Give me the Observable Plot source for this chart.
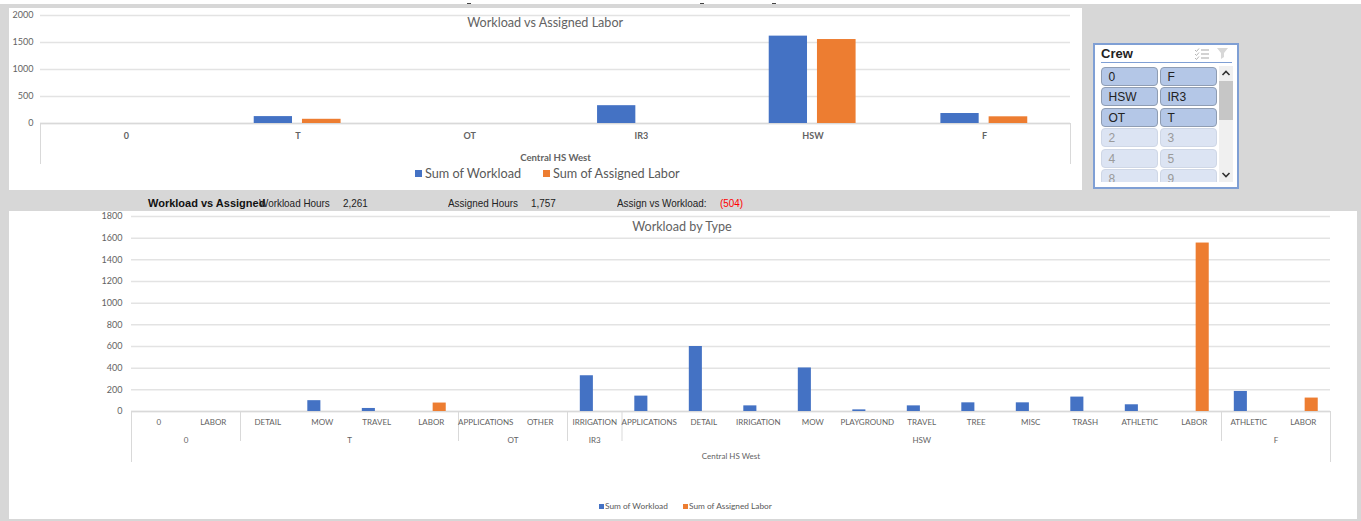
<!DOCTYPE html>
<html>
<head>
<meta charset="utf-8">
<script src="https://cdn.jsdelivr.net/npm/d3@7"></script>
<script src="https://cdn.jsdelivr.net/npm/@observablehq/plot@0.6"></script>
<style>
  html, body { margin: 0; padding: 0; }
  body { width: 1361px; height: 521px; overflow: hidden; position: relative; background: #d7d7d7; font-family: Lato, sans-serif; }
  .abs { position: absolute; white-space: nowrap; }
  .panel { position: absolute; background: #fff; }
  .panel svg { position: absolute; left: 0; top: 0; overflow: visible; background: transparent; }
  .strip { font: 11px "Liberation Sans", sans-serif; color: #222; top: 197px; transform: scaleX(0.9); transform-origin: left center; }
  .legend { color: #595959; display: flex; align-items: center; }
  .legend i { display: inline-block; }
  #slicer { position: absolute; left: 1093px; top: 43px; width: 142px; height: 142px; background: #fff; border: 2px solid #7f9fd4; overflow: hidden; }
  #slicer .head { position: absolute; left: 6px; top: 1px; font: bold 13px "Liberation Sans", sans-serif; color: #222; }
  #slicer .line { position: absolute; left: 6px; top: 17px; width: 131px; height: 1px; background: #7f9fd4; }
  #slicer .cover { position: absolute; left: 0; top: 137px; width: 142px; height: 5px; background: #fff; z-index: 2; }
  .btn { position: absolute; box-sizing: border-box; width: 57px; height: 19px; border-radius: 4px; font: 12px/18px "Liberation Sans", sans-serif; padding-left: 7px; }
  .btn.on { background: #b4c7e7; border: 1px solid #8f9db3; color: #222; }
  .btn.off { background: #dce4f3; border: 1px solid #cfd7e6; color: #9a9a9a; }
  #track { position: absolute; left: 124px; top: 21px; width: 14px; height: 116px; background: #f0f0f0; }
  #thumb { position: absolute; left: 0; top: 15px; width: 14px; height: 39px; background: #c6c6c6; }
  #topEdge { position: absolute; left: 0; top: 0; width: 1361px; height: 4px; background: #fff; }
  .tick { position: absolute; top: 3px; width: 4px; height: 1px; background: #444; }
</style>
</head>
<body>
<div id="topEdge"></div>
<div class="tick" style="left:467px"></div>
<div class="tick" style="left:700px"></div>
<div class="tick" style="left:772px"></div>
<script>
// Crew totals for the summary chart
const crews = ["0", "T", "OT", "IR3", "HSW", "F"];
const crewWorkload = [0, 128, 0, 330, 1618, 185];
const crewAssigned = [0, 78, 0, 0, 1555, 124];

// Work types under each crew for the detail chart
const typeCrews = ["0","0","T","T","T","T","OT","OT","IR3","HSW","HSW","HSW","HSW","HSW","HSW","HSW","HSW","HSW","HSW","HSW","F","F"];
const typeNames = ["0","LABOR","DETAIL","MOW","TRAVEL","LABOR","APPLICATIONS","OTHER","IRRIGATION","APPLICATIONS","DETAIL","IRRIGATION","MOW","PLAYGROUND","TRAVEL","TREE","MISC","TRASH","ATHLETIC","LABOR","ATHLETIC","LABOR"];
const typeWorkload = [0,0,0,100,28,0,0,0,330,142,600,52,402,15,52,80,80,133,62,0,185,0];
const typeAssigned = [0,0,0,0,0,78,0,0,0,0,0,0,0,0,0,0,0,0,0,1555,0,124];

// Summary strip
const workloadHours = "2,261";
const assignedHours = "1,757";
const assignGap = "(504)";

// Slicer buttons
const crewButtonsOn = ["0","F","HSW","IR3","OT","T"];
const crewButtonsOff = ["2","3","4","5","8","9"];

const BLUE = "#4472c4", ORANGE = "#ed7d31", GRID = "#e3e3e3", FRAME = "#d9d9d9", INK = "#636363";

function addBox(cls, left, top, width, height, parent = document.body) {
  const d = document.createElement("div");
  d.className = cls;
  Object.assign(d.style, {left: left + "px", top: top + "px"});
  if (width != null) d.style.width = width + "px";
  if (height != null) d.style.height = height + "px";
  parent.appendChild(d);
  return d;
}

function addLegend(left, top, size, gap, swatch, entries) {
  const d = addBox("abs legend", left, top);
  d.style.font = `${size}px Lato, sans-serif`;
  entries.forEach(([label, color, width]) => {
    const s = document.createElement("span");
    s.style.cssText = `display:inline-flex;align-items:center;width:${width}px`;
    s.innerHTML = `<i style="width:${swatch}px;height:${swatch}px;background:${color};margin-right:${gap}px"></i>${label}`;
    d.appendChild(s);
  });
}

// Spans of consecutive types belonging to one crew, in band units
function crewSpans() {
  const spans = [];
  typeCrews.forEach((c, i) => {
    const last = spans[spans.length - 1];
    if (last && last.crew === c) last.x2 = i + 1;
    else spans.push({crew: c, x1: i, x2: i + 1});
  });
  return spans;
}

// Summary chart panel
(function () {
  const panel = addBox("panel", 9, 8, 1073, 182);
  const rows = crews.map((crew, i) => ({i, crew, workload: crewWorkload[i], assigned: crewAssigned[i]}));
  const w = 1073, h = 182, base = 115;
  const chart = Plot.plot({
    width: w, height: h,
    marginLeft: 31, marginRight: 12, marginTop: 7, marginBottom: 26,
    style: {background: "transparent"},
    x: {domain: [0, crews.length], range: [31, 1061], axis: null},
    y: {domain: [0, 2000], range: [base, 7], ticks: 4, label: null},
    marks: [
      Plot.gridY({ticks: 4, stroke: GRID, strokeOpacity: 1, strokeWidth: 1.5}),
      Plot.axisY({ticks: 4, tickSize: 0, tickPadding: 7, label: null, fontSize: 9, fill: INK, fontFamily: "Lato, sans-serif", tickFormat: d3.format("d")}),
      Plot.ruleX([0, crews.length], {stroke: FRAME, insetTop: base - 7}),
      Plot.ruleY([0], {stroke: FRAME, strokeWidth: 1.5}),
      Plot.rectY(rows, {x1: d => d.i + 0.245, x2: d => d.i + 0.468, y: "workload", fill: BLUE}),
      Plot.rectY(rows, {x1: d => d.i + 0.526, x2: d => d.i + 0.751, y: "assigned", fill: ORANGE}),
      Plot.text(rows, {x: d => d.i + 0.5, y: 0, text: "crew", dy: 13, fontSize: 9, fontWeight: "bold", fill: INK, fontFamily: "Lato, sans-serif"}),
      Plot.text(["Central HS West"], {x: crews.length / 2, y: 0, dy: 34, fontSize: 9.6, fontWeight: "bold", fill: INK, fontFamily: "Lato, sans-serif", text: d => d}),
      Plot.text(["Workload vs Assigned Labor"], {x: crews.length / 2 - 0.06, y: 2000, dy: 7, fontSize: 12.6, fill: INK, fontFamily: "Lato, sans-serif", text: d => d})
    ]
  });
  panel.appendChild(chart);
  addLegend(415, 165, 12.7, 3, 7, [["Sum of Workload", BLUE, 128], ["Sum of Assigned Labor", ORANGE, 160]]);
})();

// Detail chart panel
(function () {
  const panel = addBox("panel", 9, 211, 1348, 308);
  const rows = typeNames.map((name, i) => ({i, name, crew: typeCrews[i], workload: typeWorkload[i], assigned: typeAssigned[i]}));
  const spans = crewSpans();
  const w = 1348, h = 308, base = 200, top = 5, n = typeNames.length;
  const edges = spans.map(s => s.x1).concat(n);
  const chart = Plot.plot({
    width: w, height: h,
    marginLeft: 122, marginRight: 27, marginTop: top, marginBottom: 57,
    style: {background: "transparent"},
    x: {domain: [0, n], range: [122, 1321], axis: null},
    y: {domain: [0, 1800], range: [base, top], label: null},
    marks: [
      Plot.gridY({ticks: d3.range(0, 1801, 200), stroke: GRID, strokeOpacity: 1, strokeWidth: 1.5}),
      Plot.axisY({ticks: d3.range(0, 1801, 200), tickSize: 0, tickPadding: 9, label: null, fontSize: 9, fill: INK, fontFamily: "Lato, sans-serif", tickFormat: d3.format("d")}),
      Plot.ruleX(edges.slice(1, -1), {stroke: FRAME, insetTop: base - top, insetBottom: 21}),
      Plot.ruleX([0, n], {stroke: FRAME, insetTop: base - top}),
      Plot.ruleY([0], {stroke: FRAME, strokeWidth: 1.5}),
      Plot.rectY(rows, {x1: d => d.i + 0.235, x2: d => d.i + 0.475, y: "workload", fill: BLUE}),
      Plot.rectY(rows, {x1: d => d.i + 0.535, x2: d => d.i + 0.775, y: "assigned", fill: ORANGE}),
      Plot.text(rows, {x: d => d.i + 0.5, y: 0, text: "name", dy: 11, fontSize: 8, fill: INK, fontFamily: "Lato, sans-serif"}),
      Plot.text(spans, {x: d => (d.x1 + d.x2) / 2, y: 0, text: "crew", dy: 29, fontSize: 8, fill: INK, fontFamily: "Lato, sans-serif"}),
      Plot.text(["Central HS West"], {x: n / 2, y: 0, dy: 45, fontSize: 8, fill: INK, fontFamily: "Lato, sans-serif", text: d => d}),
      Plot.text(["Workload by Type"], {x: n / 2 - 0.9, y: 1800, dy: 10, fontSize: 12.6, fill: INK, fontFamily: "Lato, sans-serif", text: d => d})
    ]
  });
  panel.appendChild(chart);
  addLegend(599, 501, 8.3, 1, 5, [["Sum of Workload", BLUE, 84], ["Sum of Assigned Labor", ORANGE, 100]]);
})();

// Totals between the two charts
[
  ["Workload vs Assigned", 148, {fontWeight: "bold", transform: "none", color: "#111"}],
  ["Workload Hours", 259, {}],
  [workloadHours, 343, {}],
  ["Assigned Hours", 448, {}],
  [assignedHours, 531, {}],
  ["Assign vs Workload:", 617, {}],
  [assignGap, 720, {color: "#f00"}]
].forEach(([label, left, style]) => {
  const d = addBox("abs strip", left);
  d.style.top = "197px";
  d.textContent = label;
  Object.assign(d.style, style);
});

// Crew slicer
(function () {
  const s = document.createElement("div");
  s.id = "slicer";
  s.innerHTML = `<div class="head">Crew</div><div class="line"></div><div class="cover"></div>
    <div id="track"><div id="thumb"></div>
      <svg width="14" height="116" style="position:absolute;left:0;top:0">
        <path d="M3.5 9l3.5-3.5 3.5 3.5M3.5 107l3.5 3.5 3.5-3.5" fill="none" stroke="#333" stroke-width="1.6"/>
      </svg></div>
    <svg width="40" height="16" style="position:absolute;left:98px;top:1px">
      <path d="M8 4h8M8 8h8M8 12h8" stroke="#a8a8a8" stroke-width="1.2"/>
      <path d="M2 4l1.5 1.5 2.5-3M2 8l1.5 1.5 2.5-3M2 12l1.5 1.5 2.5-3" fill="none" stroke="#b5b5b5" stroke-width="1"/>
      <path d="M24 2h11l-4 5v4l-3 2v-6z" fill="#d8d8d8"/>
    </svg>`;
  document.body.appendChild(s);
  const place = (labels, cls, startRow) => labels.forEach((t, i) => {
    const b = addBox("btn " + cls, 5.5 + (i % 2) * 59, 21.5 + (startRow + Math.floor(i / 2)) * 20.5, null, null, s);
    b.textContent = t;
  });
  place(crewButtonsOn, "on", 0);
  place(crewButtonsOff, "off", 3);
})();
</script>
</body>
</html>
